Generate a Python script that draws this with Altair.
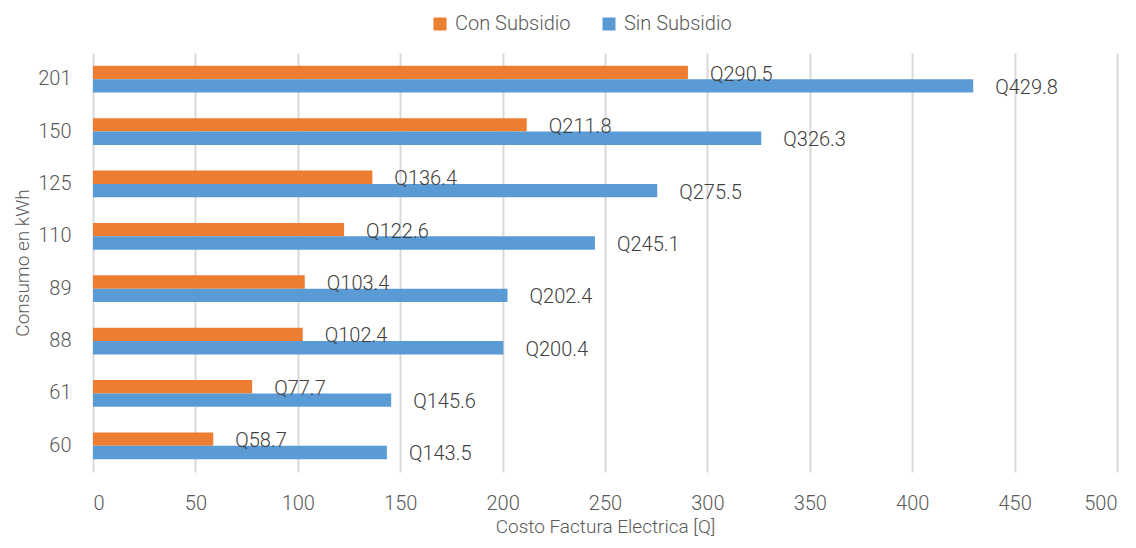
import altair as alt
import pandas as pd

consumo = ["60", "61", "88", "89", "110", "125", "150", "201"]
con_subsidio = [58.7, 77.7, 102.4, 103.4, 122.6, 136.4, 211.8, 290.5]
sin_subsidio = [143.5, 145.6, 200.4, 202.4, 245.1, 275.5, 326.3, 429.8]
series = ["Con Subsidio", "Sin Subsidio"]
colors = ["#ED7D31", "#5B9BD5"]

rows = []
for c, a, b in zip(consumo, con_subsidio, sin_subsidio):
    rows.append({"kwh": c, "serie": series[0], "valor": a, "label": f"Q{a:.1f}"})
    rows.append({"kwh": c, "serie": series[1], "valor": b, "label": f"Q{b:.1f}"})
df = pd.DataFrame(rows)

FONT = "Roboto"
FS = 20
order_y = list(reversed(consumo))

y_enc = alt.Y("kwh:N", sort=order_y, title="Consumo en kWh",
              scale=alt.Scale(paddingInner=0.49, paddingOuter=0.245),
              axis=alt.Axis(domain=False, ticks=False, labelPadding=22,
                            labelFontSize=FS, titleFontSize=19, titlePadding=5,
                            labelColor="#595959", titleColor="#595959",
                            labelFont=FONT, titleFont=FONT,
                            labelFontWeight=300, titleFontWeight=300, grid=False))
x_enc = alt.X("valor:Q", title="Costo Factura Electrica [Q]",
              scale=alt.Scale(domain=[0, 500], nice=False),
              axis=alt.Axis(values=list(range(0, 501, 50)), domain=False, ticks=False,
                            grid=True, gridColor="#D9D9D9", gridWidth=2,
                            labelPadding=21, labelFontSize=FS, titleFontSize=19,
                            titlePadding=4,
                            labelColor="#595959", titleColor="#595959",
                            labelFont=FONT, titleFont=FONT,
                            labelFontWeight=300, titleFontWeight=300))
yoff = alt.YOffset("serie:N", sort=series)

bars = alt.Chart(df).mark_bar().encode(
    x=x_enc,
    y=y_enc,
    yOffset=yoff,
    color=alt.Color("serie:N", sort=series,
                    scale=alt.Scale(domain=series, range=colors),
                    legend=alt.Legend(title=None, orient="none", direction="horizontal",
                                      legendX=337, legendY=-39,
                                      symbolType="square", symbolSize=170,
                                      symbolStrokeWidth=0,
                                      labelFontSize=FS, labelFont=FONT,
                                      labelFontWeight=300, labelColor="#595959",
                                      columnPadding=28, labelOffset=5)),
)

texts = alt.Chart(df).mark_text(align="left", baseline="middle", dx=22, dy=2,
                                fontSize=FS, font=FONT, fontWeight=300,
                                color="#404040").encode(
    x="valor:Q",
    y=alt.Y("kwh:N", sort=order_y),
    yOffset=yoff,
    text="label:N",
)

chart = (bars + texts).properties(
    width=1024, height=419,
    autosize=alt.AutoSizeParams(type="none"),
    padding={"left": 85, "top": 45, "right": 11, "bottom": 68},
).configure_view(stroke=None)

chart.save("out.html", embed_options={"renderer": "svg", "actions": False})
